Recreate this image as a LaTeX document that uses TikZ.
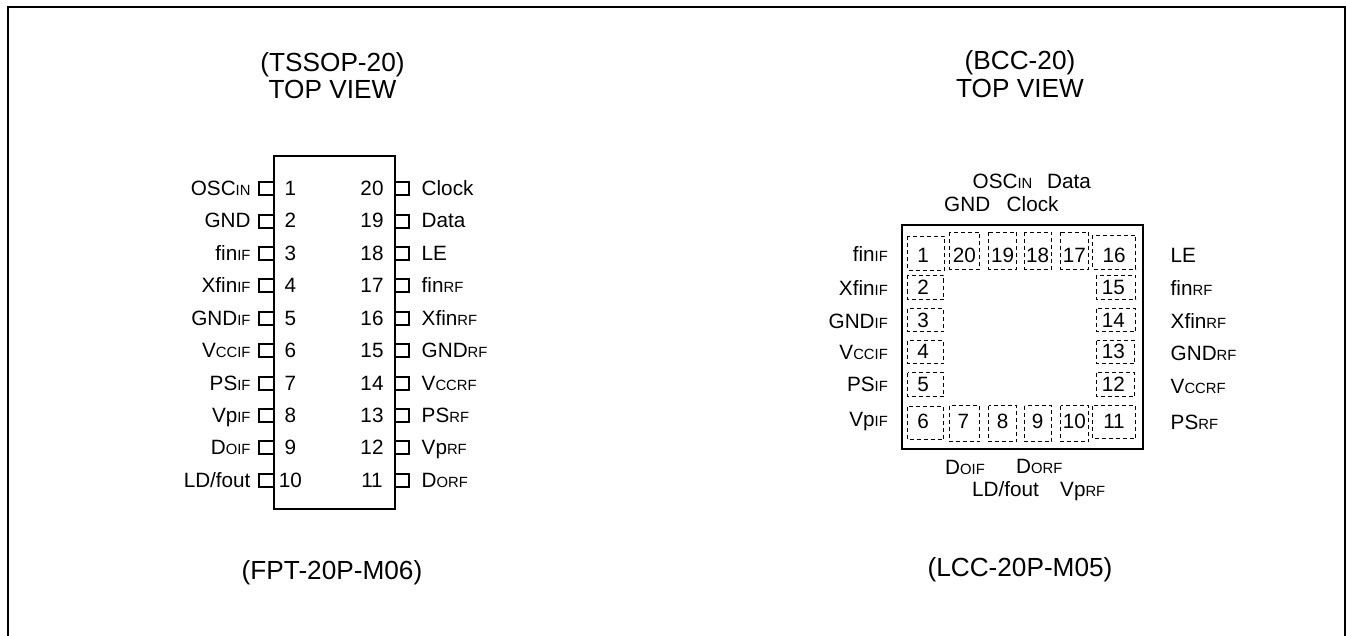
\documentclass[tikz,border=0pt]{standalone}
\usepackage{fontspec}
\setmainfont{Liberation Sans}
\newcommand{\sm}[1]{{\fontsize{14.8}{15}\selectfont #1}}
\tikzset{
  x=1pt,y=-1pt,
  title/.style={inner sep=0pt,anchor=base,font=\fontsize{26.2}{28}\selectfont},
  lab/.style={inner sep=0pt,font=\fontsize{20.7}{22}\selectfont},
  labe/.style={lab,anchor=base east},
  labw/.style={lab,anchor=base west},
  num/.style={lab,anchor=base},
  chip/.style={draw,line width=2.2pt},
  pin/.style={draw,line width=2pt},
  pad/.style={draw,line width=1pt,dash pattern=on 4pt off 3pt},
}
\begin{document}
\begin{tikzpicture}
\useasboundingbox (0,0) rectangle (1346,636);
% frame
\draw[chip] (8,640) -- (8,7) -- (1345,7) -- (1345,640);
% titles
\node[title] (t1) at (332.5,71.5) {(TSSOP-20)};
\node[title] (t2) at (332.5,99) {TOP VIEW};
\node[title] (t3) at (1020,70) {(BCC-20)};
\node[title] (t4) at (1020,97.5) {TOP VIEW};
\node[title] (t5) at (332,579) {(FPT-20P-M06)};
\node[title] (t6) at (1020,576.7) {(LCC-20P-M05)};
% TSSOP
\draw[chip] (274,156) rectangle (395,509);
\foreach \i/\ln/\rn/\ll/\rl in {
 1/1/20/OSC\sm{IN}/Clock,
 2/2/19/GND/Data,
 3/3/18/fin\sm{IF}/LE,
 4/4/17/Xfin\sm{IF}/fin\sm{RF},
 5/5/16/GND\sm{IF}/Xfin\sm{RF},
 6/6/15/V\sm{CCIF}/GND\sm{RF},
 7/7/14/PS\sm{IF}/V\sm{CCRF},
 8/8/13/Vp\sm{IF}/PS\sm{RF},
 9/9/12/D\sm{OIF}/Vp\sm{RF},
 10/10/11/{LD/fout}/D\sm{ORF}} {
  \pgfmathsetmacro{\yy}{188.3+32.4*(\i-1)}
  \pgfmathsetmacro{\ry}{round(\yy)}
  \draw[pin] (259,\ry-6) rectangle (274,\ry+7);
  \draw[pin] (395,\ry-6) rectangle (409,\ry+7);
  \node[labe] (sl\i) at (250.7,\yy+7.3) {\ll};
  \node[labw] (sr\i) at (421.5,\yy+7.3) {\rl};
  \node[num] (sn\ln) at (290.4,\yy+7.3) {\ln};
  \node[num] (sn\rn) at (372,\yy+7.3) {\rn};
}
% BCC
\draw[chip] (902,225) rectangle (1143,449);
\foreach \a/\b/\c/\d in {
 907.5/236.5/944.5/270.5, 949.5/232.5/979.5/269.5, 988.5/232.5/1016.5/269.5, 1024.5/232.5/1051.5/269.5, 1060.5/232.5/1088.5/269.5, 1092.5/235.5/1135.5/269.5,
 907.5/275.5/943.5/299.5, 907.5/308.5/943.5/331.5, 907.5/340.5/943.5/363.5, 907.5/372.5/943.5/396.5,
 1096.5/275.5/1135.5/299.5, 1096.5/308.5/1135.5/331.5, 1096.5/340.5/1134.5/363.5, 1096.5/372.5/1134.5/396.5,
 907.5/406.5/943.5/439.5, 949.5/405.5/979.5/441.5, 988.5/405.5/1016.5/441.5, 1024.5/405.5/1051.5/441.5, 1060.5/405.5/1088.5/441.5, 1092.5/405.5/1135.5/438.5} {
  \draw[pad] (\a,\b) rectangle (\c,\d);
}
\foreach \n/\x/\y in {
 1/923/262.3, 20/964.3/262.3, 19/1002.7/262.3, 18/1037.7/262.3, 17/1074.3/262.3, 16/1114/262.3,
 2/923/294.3, 3/923/327.3, 4/923/358.3, 5/923/391.7,
 15/1113.3/294.3, 14/1113.3/327.3, 13/1113.3/358.3, 12/1113.3/391.7,
 6/923/428.3, 7/963.3/428.3, 8/1002.7/428.3, 9/1037.7/428.3, 10/1074.3/428.3, 11/1114/428.3} {
  \node[num] (bn\n) at (\x,\y) {\n};
}
\node[labe] (bl1) at (888,261.5) {fin\sm{IF}};
\node[labe] (bl2) at (888,295) {Xfin\sm{IF}};
\node[labe] (bl3) at (888,328) {GND\sm{IF}};
\node[labe] (bl4) at (888,359) {V\sm{CCIF}};
\node[labe] (bl5) at (888,391.5) {PS\sm{IF}};
\node[labe] (bl6) at (888,426) {Vp\sm{IF}};
\node[labw] (br1) at (1170.5,262.5) {LE};
\node[labw] (br2) at (1170.5,295) {fin\sm{RF}};
\node[labw] (br3) at (1170.5,328) {Xfin\sm{RF}};
\node[labw] (br4) at (1170.5,360) {GND\sm{RF}};
\node[labw] (br5) at (1170.5,393) {V\sm{CCRF}};
\node[labw] (br6) at (1170.5,429) {PS\sm{RF}};
\node[labw] (bt1) at (972.5,189) {OSC\sm{IN}};
\node[labw] (bt2) at (1047,189) {Data};
\node[labw] (bt3) at (944,212) {GND};
\node[labw] (bt4) at (1006.5,212) {Clock};
\node[labw] (bb1) at (945,474) {D\sm{OIF}};
\node[labw] (bb2) at (1016,473) {D\sm{ORF}};
\node[labw] (bb3) at (972,496) {LD/fout};
\node[labw] (bb4) at (1060,496) {Vp\sm{RF}};
\end{tikzpicture}
\end{document}
